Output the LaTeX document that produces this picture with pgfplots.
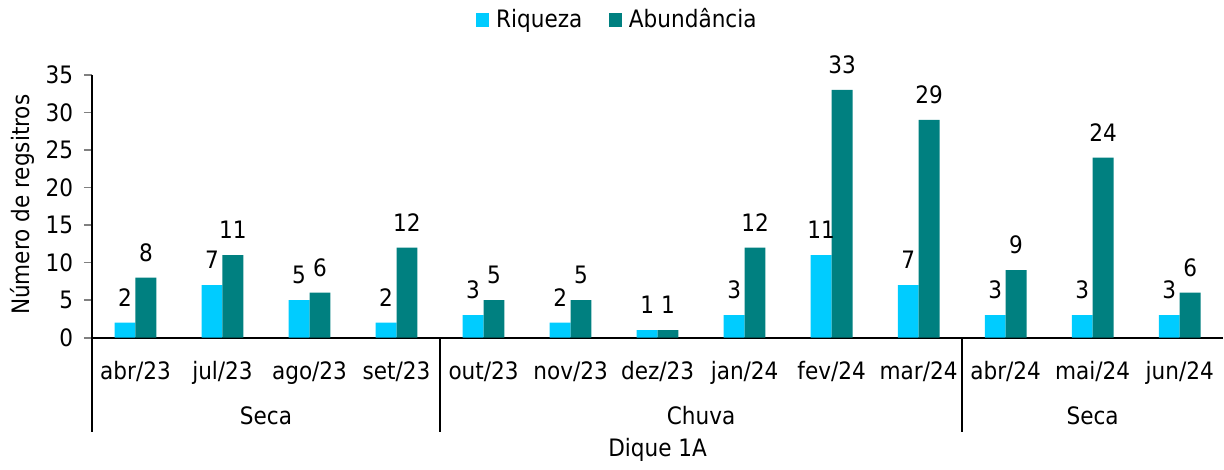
\documentclass[border=0pt]{standalone}
\usepackage{fontspec}
\setmainfont{DejaVu Sans}[FakeStretch=0.9]
\usepackage{pgfplots}
\pgfplotsset{compat=1.18}
\definecolor{riq}{HTML}{00CCFF}
\definecolor{abu}{HTML}{008080}

\begin{document}
\fontsize{18pt}{21pt}\selectfont
\begin{tikzpicture}
\begin{axis}[
  scale only axis, width=849pt, height=197.25pt,
  xmin=-0.5, xmax=12.5, ymin=0, ymax=35,
  ybar=0pt, bar width=15.67pt,
  ytick={0,5,...,35},
  xtick={0,...,12},
  xticklabels={abr/23,jul/23,ago/23,set/23,out/23,nov/23,dez/23,jan/24,fev/24,mar/24,abr/24,mai/24,jun/24},
  axis x line*=bottom, axis y line*=left,
  axis line style={line width=1.2pt},
  x tick style={draw=none},
  y tick style={line width=1.2pt},
  tick align=outside, major tick length=6pt,
  xticklabel style={anchor=base, yshift=-25pt},
  yticklabel style={anchor=east, xshift=-2pt},
  /pgf/number format/assume math mode=true,
  tick label style={font=\fontsize{18pt}{21pt}\selectfont},
  ylabel={Número de regsitros},
  ylabel style={at={(axis description cs:-0.0618,0.506)}, anchor=center, font=\fontsize{18pt}{21pt}\selectfont},
  nodes near coords,
  every node near coord/.append style={font=\fontsize{18pt}{21pt}\selectfont, yshift=6pt, /pgf/number format/assume math mode=true},
  legend style={draw=none, at={(axis description cs:0.4647,1.209)}, anchor=center, legend columns=2,
    font=\fontsize{18pt}{21pt}\selectfont,
    /tikz/every even column/.append style={column sep=18pt}},
  legend image code/.code={\fill[#1] (0pt,-5pt) rectangle (10pt,5pt);},
  clip=false,
]
\addplot[fill=riq, draw=none] coordinates {
  (0,2) (1,7) (2,5) (3,2) (4,3) (5,2) (6,1) (7,3) (8,11) (9,7) (10,3) (11,3) (12,3)};
\addplot[fill=abu, draw=none] coordinates {
  (0,8) (1,11) (2,6) (3,12) (4,5) (5,5) (6,1) (7,12) (8,33) (9,29) (10,9) (11,24) (12,6)};
\legend{\,Riqueza, \,Abundância}
\draw[line width=1.2pt] (axis cs:-0.5,0) -- (axis cs:-0.5,-12.5);
\draw[line width=1.2pt] (axis cs:3.5,0) -- (axis cs:3.5,-12.5);
\draw[line width=1.2pt] (axis cs:9.5,0) -- (axis cs:9.5,-12.5);
\node[anchor=base] at (axis cs:1.5,-11.58) {Seca};
\node[anchor=base] at (axis cs:6.5,-11.58) {Chuva};
\node[anchor=base] at (axis cs:11,-11.58) {Seca};
\node[anchor=base] at (axis cs:6,-15.8) {Dique 1A};
\path (axis description cs:-0.0813,-0.479) rectangle (axis description cs:1.0,1.285);
\end{axis}
\end{tikzpicture}
\end{document}
